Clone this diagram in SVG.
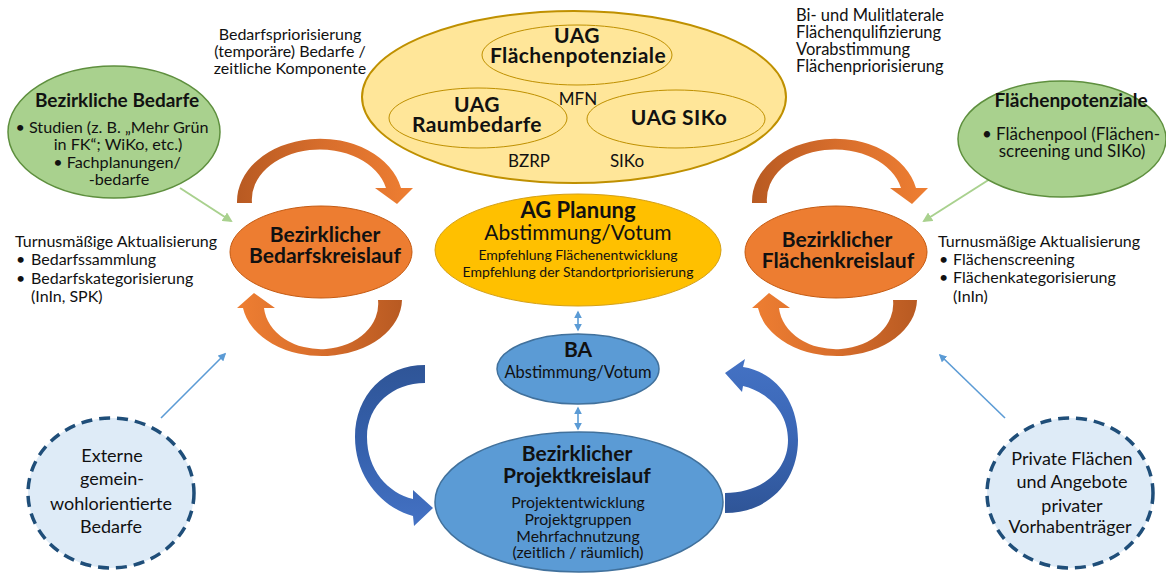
<svg xmlns="http://www.w3.org/2000/svg" width="1166" height="574" viewBox="0 0 1166 574">
<defs>
<style>
text{font-family:Lato,"Liberation Sans",sans-serif;fill:#111;}
.b{font-weight:bold;}
.c{text-anchor:middle;}
.big{fill:#ffe699;stroke:#bf9000;stroke-width:2;}
.sub{fill:none;stroke:#bf9000;stroke-width:1;}
.grn{fill:#a9d18e;stroke:#5e8f3e;stroke-width:1.5;}
.org{fill:#ed7d31;stroke:#c55a11;stroke-width:1;}
.ag{fill:#ffc000;stroke:#d4a017;stroke-width:1;}
.blu{fill:#5b9bd5;stroke:#41719c;stroke-width:1.5;}
.dash{fill:#deebf7;stroke:#1f4e79;stroke-width:3.5;stroke-dasharray:11 7;}
.gl{stroke:#a9d18e;stroke-width:2;fill:none;}
.bl{stroke:#5b9bd5;stroke-width:1.6;fill:none;}
.uag{font-size:21px;letter-spacing:0.4px;}
</style>
<marker id="ag" viewBox="0 0 10 10" markerWidth="5" markerHeight="5" refX="8" refY="5" orient="auto"><path d="M0,0 L10,5 L0,10 Z" fill="#a9d18e"/></marker>
<marker id="ab" viewBox="0 0 10 10" markerWidth="5" markerHeight="5" refX="8" refY="5" orient="auto-start-reverse"><path d="M0,0 L10,5 L0,10 Z" fill="#5b9bd5"/></marker>
<linearGradient id="oTop" x1="0" y1="0" x2="1" y2="0"><stop offset="0" stop-color="#b85a22"/><stop offset="0.5" stop-color="#d86e2c"/><stop offset="1" stop-color="#ee7e32"/></linearGradient>
<linearGradient id="oBot" x1="0" y1="0" x2="1" y2="0"><stop offset="0" stop-color="#ee7e32"/><stop offset="0.5" stop-color="#d86e2c"/><stop offset="1" stop-color="#b85a22"/></linearGradient>
<linearGradient id="bL" x1="0" y1="0" x2="0" y2="1"><stop offset="0" stop-color="#2f5597"/><stop offset="0.5" stop-color="#3560ac"/><stop offset="1" stop-color="#4472c4"/></linearGradient>
<linearGradient id="bR" x1="0" y1="0" x2="0" y2="1"><stop offset="0" stop-color="#4472c4"/><stop offset="0.5" stop-color="#3a66b5"/><stop offset="1" stop-color="#2f5597"/></linearGradient>
</defs>
<rect width="1166" height="574" fill="#fff"/>

<g id="connectors">
<line class="gl" x1="180" y1="188" x2="231" y2="221" marker-end="url(#ag)"/>
<line class="gl" x1="990" y1="179" x2="924" y2="221" marker-end="url(#ag)"/>
<line class="bl" x1="161" y1="418" x2="225" y2="354" marker-end="url(#ab)"/>
<line class="bl" x1="1005" y1="418" x2="940" y2="355" marker-end="url(#ab)"/>
<line class="bl" x1="578" y1="312" x2="578" y2="330" marker-start="url(#ab)" marker-end="url(#ab)"/>
<line class="bl" x1="578" y1="408" x2="578" y2="429" marker-start="url(#ab)" marker-end="url(#ab)"/>
<g id="loop-left">
<path fill="url(#oTop)" d="M237,203 A83,63 0 0 1 401,188 L413,188 L397,204 L375,188 L386,188 A68,50 0 0 0 252,203 Z"/>
<path fill="url(#oBot)" d="M402,300 A80,57 0 0 1 243,308 L237,308 L254,293 L275,308 L264,308 A57,45 0 0 0 378,300 Z"/>
</g>
<g id="loop-right" transform="translate(515,0)">
<path fill="url(#oTop)" d="M237,203 A83,63 0 0 1 401,188 L413,188 L397,204 L375,188 L386,188 A68,50 0 0 0 252,203 Z"/>
<path fill="url(#oBot)" d="M402,300 A80,57 0 0 1 243,308 L237,308 L254,293 L275,308 L264,308 A57,45 0 0 0 378,300 Z"/>
</g>
<path id="blue-left" fill="url(#bL)" d="M425,365 C385,365 355,395 355,437 C355,478 383,508 413,516 L414,526 L433,508 L413,490 L413,499 C388,493 367,470 367,437 C367,405 393,383 425,383 Z"/>
<path id="blue-right" fill="url(#bR)" d="M725,513 C770,513 798,480 798,440 C798,400 775,372 743,367 L745,359 L725,373 L742,392 L743,386 C768,392 788,412 788,440 C788,472 760,493 725,493 Z"/>
</g>

<g id="uag-group">
<ellipse class="big" cx="574" cy="97" rx="212" ry="86"/>
<g id="uag-flaechen"><ellipse class="sub" cx="577" cy="55" rx="95" ry="30"/>
<text class="b c uag" x="577" y="43">UAG</text>
<text class="b c uag" x="578" y="63">Flächenpotenziale</text></g>
<g id="uag-raum"><ellipse class="sub" cx="478" cy="118" rx="89" ry="30"/>
<text class="b c uag" x="477" y="112">UAG</text>
<text class="b c uag" x="477" y="132">Raumbedarfe</text></g>
<g id="uag-siko"><ellipse class="sub" cx="676" cy="119" rx="89" ry="29"/>
<text class="b c uag" x="679" y="125">UAG SIKo</text></g>
<text class="c" x="578" y="105" font-size="17">MFN</text>
<text class="c" x="529" y="167" font-size="17">BZRP</text>
<text class="c" x="627" y="167" font-size="17">SIKo</text>
</g>

<g id="note-top-left" font-size="16">
<text class="c" x="290" y="40">Bedarfspriorisierung</text>
<text class="c" x="290" y="57">(temporäre) Bedarfe /</text>
<text class="c" x="290" y="74">zeitliche Komponente</text>
</g>

<g id="note-top-right" font-size="16.5">
<text x="796" y="21">Bi- und Mulitlaterale</text>
<text x="796" y="38">Flächenqulifizierung</text>
<text x="796" y="55">Vorabstimmung</text>
<text x="796" y="72">Flächenpriorisierung</text>
</g>

<g id="bezirkliche-bedarfe">
<ellipse class="grn" cx="114" cy="132" rx="106" ry="66"/>
<text class="b c" x="117" y="107" font-size="19">Bezirkliche Bedarfe</text>
<text class="c" x="112" y="133" font-size="16.2">• Studien (z. B. „Mehr Grün</text>
<text class="c" x="118" y="150" font-size="16.2">in FK“; WiKo, etc.)</text>
<text class="c" x="117" y="168" font-size="16.2">• Fachplanungen/</text>
<text class="c" x="119" y="185" font-size="16.2">-bedarfe</text>
</g>

<g id="flaechenpotenziale">
<ellipse class="grn" cx="1062" cy="139" rx="104" ry="58"/>
<text class="b c" x="1071" y="107" font-size="19">Flächenpotenziale</text>
<text class="c" x="1071" y="140" font-size="17">• Flächenpool (Flächen-</text>
<text class="c" x="1072" y="157" font-size="17">screening und SIKo)</text>
</g>

<g id="bedarfskreislauf">
<ellipse class="org" cx="321" cy="252" rx="91" ry="46"/>
<text class="b c" x="325" y="242" font-size="21">Bezirklicher</text>
<text class="b c" x="325" y="263" font-size="21">Bedarfskreislauf</text>
</g>

<g id="flaechenkreislauf">
<ellipse class="org" cx="836" cy="252" rx="91" ry="46"/>
<text class="b c" x="837" y="247" font-size="21">Bezirklicher</text>
<text class="b c" x="838" y="268" font-size="21">Flächenkreislauf</text>
</g>

<g id="note-left" font-size="16">
<text x="15" y="247">Turnusmäßige Aktualisierung</text>
<text x="16" y="265">•</text><text x="31" y="265">Bedarfssammlung</text>
<text x="16" y="284">•</text><text x="31" y="284">Bedarfskategorisierung</text>
<text x="31" y="302">(InIn, SPK)</text>
</g>

<g id="note-right" font-size="16">
<text x="938" y="247">Turnusmäßige Aktualisierung</text>
<text x="939" y="265">•</text><text x="953" y="265">Flächenscreening</text>
<text x="939" y="283">•</text><text x="953" y="283">Flächenkategorisierung</text>
<text x="953" y="302">(InIn)</text>
</g>

<g id="ag-planung">
<ellipse class="ag" cx="578" cy="250" rx="143" ry="56"/>
<text class="b c" x="578" y="218" font-size="22">AG Planung</text>
<text class="c" x="578" y="240" font-size="21">Abstimmung/Votum</text>
<text class="c" x="578" y="260" font-size="14">Empfehlung Flächenentwicklung</text>
<text class="c" x="578" y="277" font-size="14">Empfehlung der Standortpriorisierung</text>
</g>

<g id="ba">
<ellipse class="blu" cx="578" cy="369" rx="81" ry="35"/>
<text class="b c" x="578" y="357" font-size="21">BA</text>
<text class="c" x="578" y="378" font-size="16.5">Abstimmung/Votum</text>
</g>

<g id="projektkreislauf">
<ellipse class="blu" cx="579" cy="502" rx="144" ry="70"/>
<text class="b c" x="577" y="461" font-size="21">Bezirklicher</text>
<text class="b c" x="577" y="483" font-size="21">Projektkreislauf</text>
<text class="c" x="578" y="508" font-size="15.8">Projektentwicklung</text>
<text class="c" x="578" y="525" font-size="15.8">Projektgruppen</text>
<text class="c" x="578" y="542" font-size="15.8">Mehrfachnutzung</text>
<text class="c" x="578" y="558" font-size="15.8">(zeitlich / räumlich)</text>
</g>

<g id="externe-bedarfe">
<ellipse class="dash" cx="111" cy="493" rx="83" ry="75"/>
<text class="c" x="112" y="462" font-size="18">Externe</text>
<text class="c" x="112" y="485" font-size="18">gemein-</text>
<text class="c" x="111" y="510" font-size="18">wohlorientierte</text>
<text class="c" x="111" y="533" font-size="18">Bedarfe</text>
</g>

<g id="private-flaechen">
<ellipse class="dash" cx="1070" cy="493" rx="83" ry="75"/>
<text class="c" x="1072" y="465" font-size="18">Private Flächen</text>
<text class="c" x="1072" y="488" font-size="18">und Angebote</text>
<text class="c" x="1072" y="512" font-size="18">privater</text>
<text class="c" x="1070" y="533" font-size="18">Vorhabenträger</text>
</g>
</svg>
